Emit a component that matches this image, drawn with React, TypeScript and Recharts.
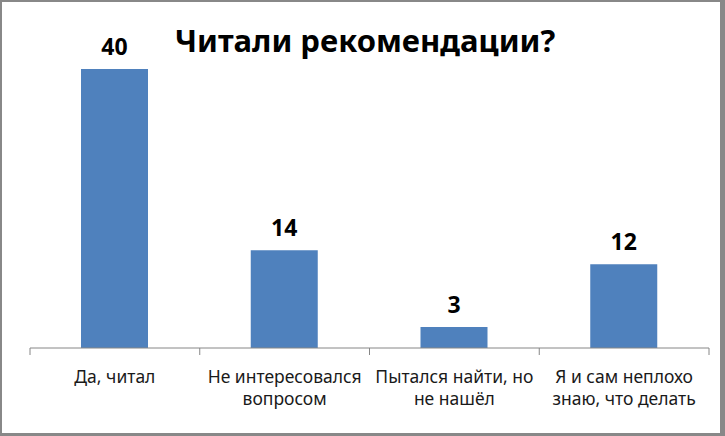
import React from 'react';
import { Bar, BarChart, LabelList, XAxis, YAxis } from 'recharts';

const categories = ['Да, читал', 'Не интересовался\nвопросом', 'Пытался найти, но\nне нашёл', 'Я и сам неплохо\nзнаю, что делать'];
const counts = [40, 14, 3, 12];

const chartData = categories.map((name, i) => ({ name, value: counts[i] }));

const FONT = '"Noto Sans", sans-serif';

const CategoryTick = (props: any) => {
  const { x, y, payload, index, visibleTicksCount } = props;
  const half = payload && payload.offset ? payload.offset : 85;
  const lines = String(payload.value).split('\n');
  const isLast = index === visibleTicksCount - 1;
  return (
    <g>
      <line x1={x - half} x2={x - half} y1={y - 8} y2={y - 1} stroke="#868686" />
      {isLast && <line x1={x + half} x2={x + half} y1={y - 8} y2={y - 1} stroke="#868686" />}
      <text x={x} y={y + 27} textAnchor="middle" fontFamily={FONT} fontSize={17.5} fill="#1a1a1a">
        {lines.map((line, i) => (
          <tspan key={i} x={x} dy={i === 0 ? 0 : 22}>{line}</tspan>
        ))}
      </text>
    </g>
  );
};

export default function App() {
  return (
    <div
      style={{
        position: 'fixed',
        left: 0,
        top: 0,
        width: 725,
        height: 436,
        boxSizing: 'border-box',
        background: '#fff',
        borderStyle: 'solid',
        borderColor: '#888',
        borderWidth: '2px 5px 3px 2px',
        overflow: 'hidden',
      }}
    >
      <div
        style={{
          position: 'absolute',
          left: 0,
          right: 0,
          top: 17,
          textAlign: 'center',
          fontFamily: FONT,
          fontWeight: 700,
          fontSize: 31,
          color: '#000',
          paddingLeft: 8,
        }}
      >
        Читали рекомендации?
      </div>
      <div style={{ position: 'absolute', left: -2, top: -2 }}>
        <BarChart
          width={725}
          height={436}
          data={chartData}
          margin={{ top: 69, right: 16, left: 30, bottom: 0 }}
          barSize={67}
        >
          <YAxis hide domain={[0, 40]} />
          <XAxis
            dataKey="name"
            height={88}
            interval={0}
            axisLine={{ stroke: '#868686' }}
            tickLine={false}
            tick={<CategoryTick />}
          />
          <Bar dataKey="value" fill="#4F81BD" isAnimationActive={false}>
            <LabelList
              dataKey="value"
              position="top"
              offset={14}
              fontFamily={FONT}
              fontWeight={700}
              fontSize={23}
              fill="#000"
            />
          </Bar>
        </BarChart>
      </div>
    </div>
  );
}
